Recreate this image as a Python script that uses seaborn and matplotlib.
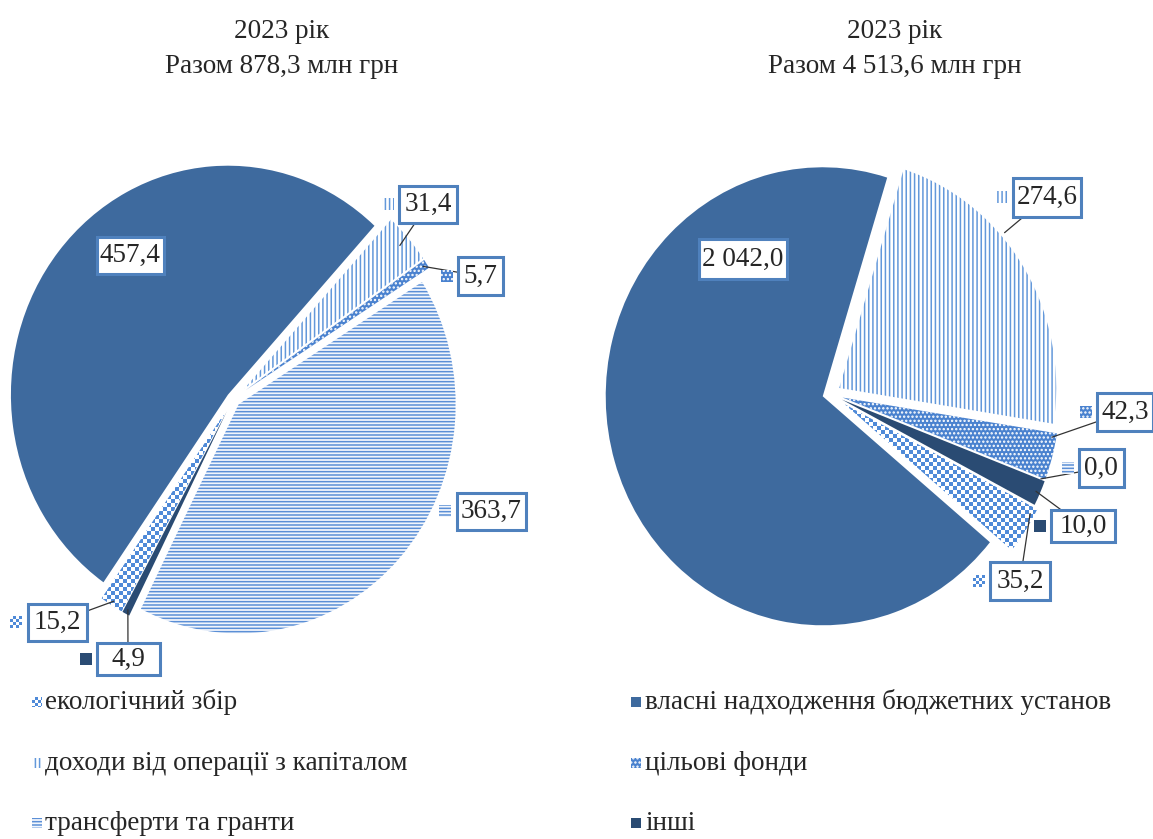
import numpy as np
import matplotlib
matplotlib.use("Agg")
import matplotlib.pyplot as plt
import seaborn as sns
from matplotlib.patches import Rectangle
from matplotlib.lines import Line2D

# ---------------- data ----------------
year_label = "2023 рік"
left_total = "878,3"
right_total = "4 513,6"
categories = ["власні надходження бюджетних установ",
              "доходи від операції з капіталом",
              "цільові фонди",
              "трансферти та гранти",
              "інші",
              "екологічний збір"]
left_values = [457.4, 31.4, 5.7, 363.7, 4.9, 15.2]
right_values = [2042.0, 274.6, 42.3, 0.0, 10.0, 35.2]
# slice sizes of the right pie as drawn in the picture (% of the circle);
# its labels show right_values
right_shares = [68.8, 22.7, 3.3, 0.0, 1.8, 3.4]
legend_left = ["екологічний збір", "доходи від операції з капіталом", "трансферти та гранти"]
legend_right = ["власні надходження бюджетних установ", "цільові фонди", "інші"]

# ---------------- style ----------------
sns.set_theme(style="white")
plt.rcParams["font.family"] = ["Liberation Serif", "DejaVu Serif"]
plt.rcParams["hatch.linewidth"] = 1.1

W, H = 1153, 839
fig = plt.figure(figsize=(W / 100, H / 100), dpi=100)
fig.patch.set_facecolor("white")

BLUE = "#3E6A9E"
DARK = "#2A4B73"
LINEBLUE = "#5B8FD6"
BOX = "#4F81BD"
CHK_BLUE = np.array([0x4F, 0x8A, 0xD8]) / 255.0

STYLE = {
    categories[0]: dict(kind="solid", face=BLUE),
    categories[1]: dict(kind="hatch", face="white", hc="#6398DA", hatch="||||"),
    categories[2]: dict(kind="hatch", face="#4A82CF", hc="white", hatch="...."),
    categories[3]: dict(kind="hatch", face="#F2F6FC", hc=LINEBLUE, hatch="-----"),
    categories[4]: dict(kind="solid", face=DARK),
    categories[5]: dict(kind="checker"),
}


def checker(nr, nc, cell):
    yy, xx = np.mgrid[0:nr, 0:nc]
    m = ((yy // cell + xx // cell) % 2).astype(bool)
    img = np.ones((nr, nc, 3))
    img[m] = CHK_BLUE
    return img


def fmt(v):
    return f"{v:,.1f}".replace(",", " ").replace(".", ",")


def px2fig(x, y):
    return x / W, 1 - y / H


L = 1.5


def pie_axes(cx, cy, rx, ry):
    w, h = 2 * L * rx, 2 * L * ry
    return fig.add_axes([(cx - w / 2) / W, (H - cy - h / 2) / H, w / W, h / H])


def draw_pie(ax, sizes, startangle, explode, rx, ry):
    wedges, _ = ax.pie(sizes, startangle=startangle, counterclock=False,
                       explode=explode, radius=1.0, wedgeprops=dict(linewidth=0))
    for w, cat in zip(wedges, categories):
        st = STYLE[cat]
        w.set_linewidth(0)
        if st["kind"] == "solid":
            w.set_facecolor(st["face"])
            w.set_edgecolor(st["face"])
        elif st["kind"] == "hatch":
            w.set_facecolor(st["face"])
            w.set_edgecolor(st["hc"])
            w.set_hatch(st["hatch"])
        else:
            w.set_facecolor("white")
            w.set_edgecolor("white")
            nc, nr = int(2 * L * rx), int(2 * L * ry)
            im = ax.imshow(checker(nr, nc, 4), extent=(-L, L, -L, L),
                           interpolation="nearest", aspect="auto", zorder=2)
            im.set_clip_path(w)
    ax.set_aspect("auto")
    ax.set_xlim(-L, L)
    ax.set_ylim(-L, L)
    ax.axis("off")
    return wedges


def marker(cx, cy, cat, s):
    st = STYLE[cat]
    if st["kind"] == "checker":
        fig.figimage(checker(s, s, 3), xo=int(round(cx - s / 2)),
                     yo=int(round(H - cy - s / 2)), origin="upper", zorder=10)
    else:
        x0, y0 = px2fig(cx - s / 2, cy + s / 2)
        fig.add_artist(Rectangle((x0, y0), s / W, s / H, transform=fig.transFigure,
                                 lw=0, zorder=10, facecolor=st["face"],
                                 edgecolor=st.get("hc", st["face"]),
                                 hatch=st.get("hatch")))


def labels(ax, wedges, values, centers, sizes, leaders):
    for w, v, cat, (bx, by), (bw, bh), lead in zip(wedges, values, categories,
                                                  centers, sizes, leaders):
        x0, y0 = px2fig(bx - bw / 2, by + bh / 2)
        fig.add_artist(Rectangle((x0, y0), bw / W, bh / H, transform=fig.transFigure,
                                 facecolor="white", edgecolor=BOX, lw=2.2, zorder=8))
        fig.text(bx / W, 1 - by / H, fmt(v), ha="center", va="center",
                 fontsize=19.5, zorder=9)
        marker(bx - bw / 2 - 11, by, cat, 12)
        if lead is not None:
            frac, rf = lead
            t = np.deg2rad(w.theta1 + frac * (w.theta2 - w.theta1))
            pt = (w.center[0] + rf * w.r * np.cos(t), w.center[1] + rf * w.r * np.sin(t))
            px, py = ax.transData.transform(pt)
            fig.add_artist(Line2D([px / W, bx / W], [py / H, 1 - by / H],
                                  transform=fig.transFigure, color="#333333",
                                  lw=0.9, zorder=7))


# ---------------- left pie ----------------
rx, ry = 217, 229
axL = pie_axes(233, 399, rx, ry)
wl = draw_pie(axL, left_values, 235, [0.03, 0.07, 0.07, 0.035, 0.06, 0.06], rx, ry)
labels(axL, wl, left_values,
       [(130, 255), (428, 204), (480, 276), (491, 511), (128, 659), (57, 622)],
       [(67, 37), (58, 37), (45, 38), (69, 37), (63, 32), (59, 37)],
       [None, (0.5, 0.95), (0.5, 0.98), None, (0.5, 0.98), (0.5, 0.98)])

# ---------------- right pie ----------------
axR = pie_axes(830, 394, rx, ry)
wr = draw_pie(axR, right_shares, 320.4, [0.035, 0.05, 0.06, 0.06, 0.06, 0.08], rx, ry)
labels(axR, wr, right_values,
       [(743, 259), (1047, 197), (1125, 412), (1101, 468), (1083, 526), (1020, 581)],
       [(88, 40), (68, 39), (56, 38), (45, 38), (64, 32), (60, 38)],
       [None, (0.62, 1.02), (0.9, 0.98), (0.5, 0.98), (0.5, 0.98), (0.85, 0.98)])

# ---------------- titles ----------------
for cx, total in [(282, left_total), (895, right_total)]:
    fig.text(cx / W, 1 - 38 / H, year_label, ha="center", va="baseline", fontsize=19.5)
    fig.text(cx / W, 1 - 73 / H, f"Разом {total} млн грн", ha="center",
             va="baseline", fontsize=19.5)

# ---------------- legend ----------------
rows = [709, 770, 830]
for (mx, tx), names in [((37, 45), legend_left), ((636, 645), legend_right)]:
    for y, name in zip(rows, names):
        marker(mx, y - 7, name, 10)
        fig.text(tx / W, 1 - y / H, name, ha="left", va="baseline", fontsize=19.5)

fig.savefig("out.png", dpi=100)
